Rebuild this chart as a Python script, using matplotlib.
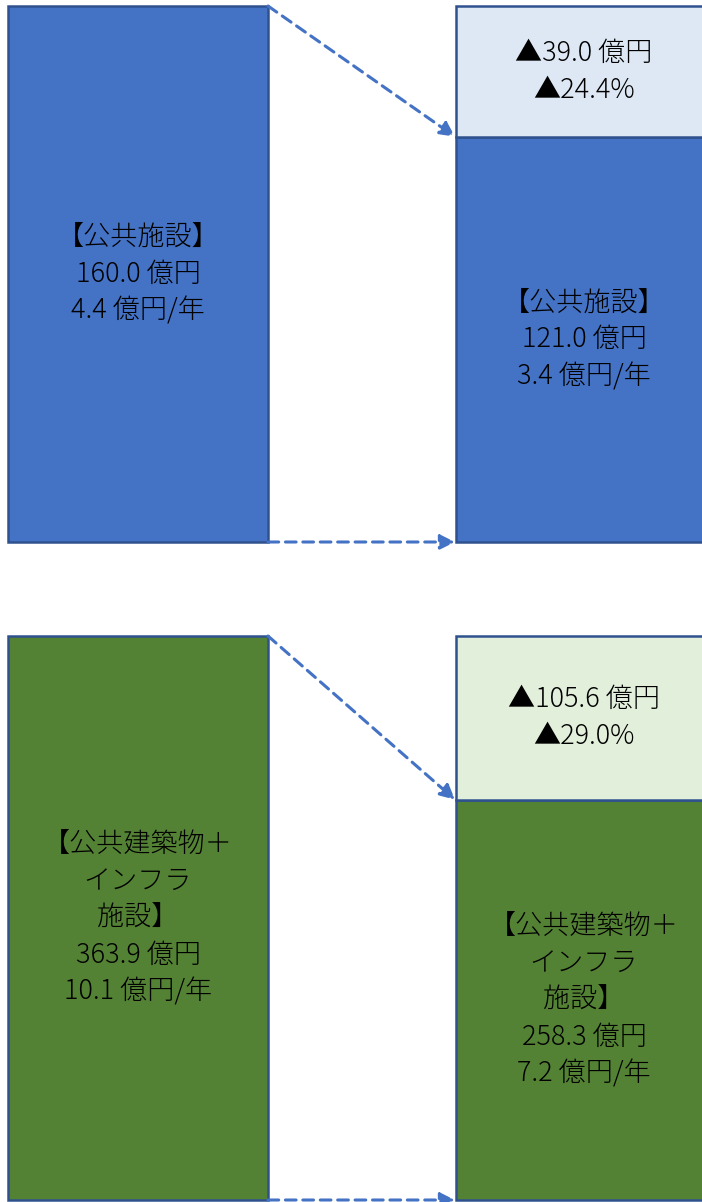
import matplotlib.pyplot as plt

plt.rcParams['font.family'] = ['Noto Sans CJK JP', 'DejaVu Sans']

# panel data: before, after, reduction
before = [160.0, 363.9]
after = [121.0, 258.3]
cut = [39.0, 105.6]
cut_pct = [24.4, 29.0]
per_year_before = [4.4, 10.1]
per_year_after = [3.4, 7.2]
names = ['【公共施設】', '【公共建築物＋\nインフラ\n施設】']

dark = ['#4472C4', '#548235']
light = ['#DEE8F4', '#E2EFDA']
edge = '#2F528F'
arrow_col = '#4472C4'

W, H = 702, 1202
fig = plt.figure(figsize=(W / 100, H / 100), dpi=100)

# axes extents in pixels (top, bottom)
spans = [(6, 542), (636, 1200)]
fs = 19.5
ls = 1.4

for i in range(2):
    top, bot = spans[i]
    ax = fig.add_axes([0, (H - bot) / H, 1, (bot - top) / H])
    ax.set_xlim(0, W)
    ax.set_ylim(0, before[i])
    ax.axis('off')

    ax.bar(8, before[i], width=260, align='edge', color=dark[i],
           edgecolor=edge, linewidth=1.8, clip_on=False)
    ax.bar(456, after[i], width=270, align='edge', color=dark[i],
           edgecolor=edge, linewidth=1.8, clip_on=False)
    ax.bar(456, cut[i], bottom=after[i], width=270, align='edge',
           color=light[i], edgecolor=edge, linewidth=1.8, clip_on=False)

    kw = dict(ha='center', va='center', fontsize=fs, linespacing=ls,
              color='black', fontweight='light')
    ax.text(138, before[i] / 2,
            f'{names[i]}\n{before[i]:.1f} 億円\n{per_year_before[i]:.1f} 億円/年', **kw)
    ax.text(584, after[i] / 2,
            f'{names[i]}\n{after[i]:.1f} 億円\n{per_year_after[i]:.1f} 億円/年', **kw)
    ax.text(584, after[i] + cut[i] / 2,
            f'▲{cut[i]:.1f} 億円\n▲{cut_pct[i]:.1f}%', **kw)

    for y0, y1 in [(before[i], after[i]), (0, 0)]:
        ax.annotate('', xy=(455, y1), xytext=(268, y0),
                    arrowprops=dict(arrowstyle='-|>', linestyle=(0, (3.5, 2.2)),
                                    color=arrow_col, lw=2.2, mutation_scale=22,
                                    shrinkA=0, shrinkB=0),
                    annotation_clip=False)

fig.savefig('out.png', dpi=100)
